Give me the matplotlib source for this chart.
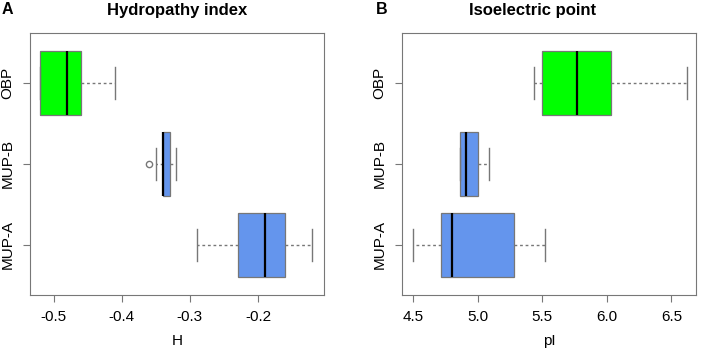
import matplotlib
matplotlib.use('Agg')
import matplotlib.pyplot as plt

plt.rcParams['font.family'] = ['Liberation Sans', 'DejaVu Sans']

groups = ['MUP-A', 'MUP-B', 'OBP']
colors = ['#6495ED', '#6495ED', '#00FF00']

# Hydropathy index (H): whisker low, Q1, median, Q3, whisker high
h_lo = [-0.29, -0.35, -0.52]
h_q1 = [-0.23, -0.34, -0.52]
h_med = [-0.19, -0.34, -0.48]
h_q3 = [-0.16, -0.33, -0.46]
h_hi = [-0.12, -0.32, -0.41]
h_out = [[], [-0.36], []]
h_ticks = [-0.5, -0.4, -0.3, -0.2]
h_labels = ['-0.5', '-0.4', '-0.3', '-0.2']

# Isoelectric point (pI)
p_lo = [4.50, 4.86, 5.44]
p_q1 = [4.72, 4.86, 5.50]
p_med = [4.80, 4.91, 5.77]
p_q3 = [5.28, 5.00, 6.03]
p_hi = [5.52, 5.09, 6.62]
p_out = [[], [], []]
p_ticks = [4.5, 5.0, 5.5, 6.0, 6.5]
p_labels = ['4.5', '5.0', '5.5', '6.0', '6.5']

GRAY = '#777777'


def draw(ax, lo, q1, med, q3, hi, out, ticks, labels, xlim, xlabel):
    stats = []
    for i in range(len(groups)):
        stats.append({'whislo': lo[i], 'q1': q1[i], 'med': med[i], 'q3': q3[i],
                      'whishi': hi[i], 'fliers': out[i], 'label': groups[i]})
    bp = ax.bxp(stats, vert=False, widths=0.8, patch_artist=True,
                boxprops=dict(edgecolor=GRAY, linewidth=0.9),
                medianprops=dict(color='black', linewidth=1.6),
                whiskerprops=dict(color=GRAY, linestyle=(0, (2, 2)), linewidth=1),
                capprops=dict(color=GRAY, linewidth=1),
                capwidths=0.4,
                flierprops=dict(marker='o', markerfacecolor='none',
                                markeredgecolor=GRAY, markersize=4.5))
    for patch, c in zip(bp['boxes'], colors):
        patch.set_facecolor(c)
    ax.set_xlim(*xlim)
    ax.set_ylim(0.38, 3.62)
    ax.set_xticks(ticks)
    ax.set_xticklabels(labels)
    ax.set_yticks([1, 2, 3])
    ax.set_yticklabels(groups, rotation=90, va='center')
    ax.tick_params(colors=GRAY, labelcolor='black', labelsize=11, length=5, pad=6)
    for s in ax.spines.values():
        s.set_color(GRAY)
    ax.set_xlabel(xlabel, fontsize=11, labelpad=7)


fig = plt.figure(figsize=(7.01, 3.51), dpi=100)
ax1 = fig.add_axes([30 / 701, 56 / 351, 294 / 701, 262 / 351])
ax2 = fig.add_axes([402 / 701, 56 / 351, 294 / 701, 262 / 351])

draw(ax1, h_lo, h_q1, h_med, h_q3, h_hi, h_out, h_ticks, h_labels, (-0.535, -0.103), 'H')
draw(ax2, p_lo, p_q1, p_med, p_q3, p_hi, p_out, p_ticks, p_labels, (4.415, 6.69), 'pI')

fig.text(177 / 701, 1 - 10 / 351, 'Hydropathy index', ha='center', va='center',
         fontsize=12, fontweight='bold')
fig.text(533 / 701, 1 - 10 / 351, 'Isoelectric point', ha='center', va='center',
         fontsize=12, fontweight='bold')
fig.text(2 / 701, 1 - 9 / 351, 'A', ha='left', va='center', fontsize=11.5, fontweight='bold')
fig.text(376 / 701, 1 - 9 / 351, 'B', ha='left', va='center', fontsize=11.5, fontweight='bold')

fig.savefig('out.png', dpi=100)
